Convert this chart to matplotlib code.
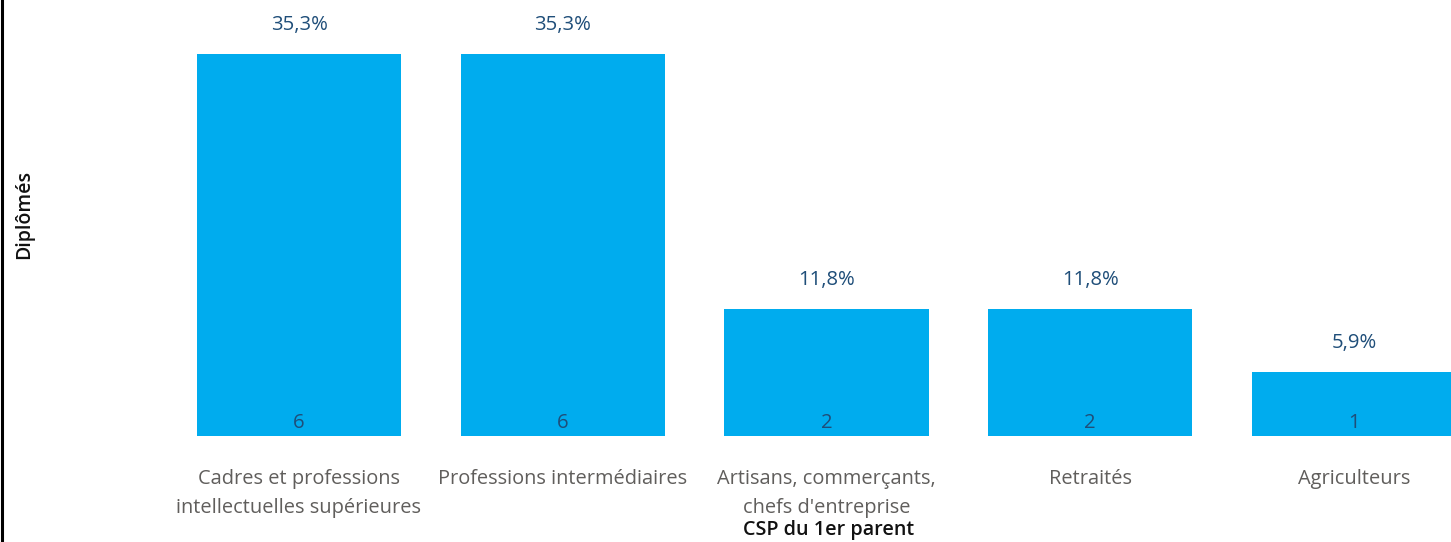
"""Bar chart: Diplômés par CSP du 1er parent."""

import matplotlib.pyplot as plt
import numpy as np

categories = [
    "Cadres et professions\nintellectuelles supérieures",
    "Professions intermédiaires",
    "Artisans, commerçants,\nchefs d'entreprise",
    "Retraités",
    "Agriculteurs",
]
counts = [6, 6, 2, 2, 1]
percent_labels = ["35,3%", "35,3%", "11,8%", "11,8%", "5,9%"]

W, H = 1451, 542
fig = plt.figure(figsize=(W / 100, H / 100), dpi=100, facecolor="white")

# axes placed in pixel terms: bottom of bars at y=436, category step ~263.75 px
step = 263.75
left_px = 299 - step / 2
ax = fig.add_axes([left_px / W, (H - 436) / H, (W - left_px) / W, 436 / H])
x = np.arange(len(categories))
ax.bar(x, counts, width=0.774, color="#00ACEE")
ax.set_xlim(-0.5, -0.5 + (W - left_px) / step)
ax.set_ylim(0, 436 / 63.67)

font = ["Open Sans", "DejaVu Sans"]
px = 72 / 100  # points per pixel
for xi, c, p in zip(x, counts, percent_labels):
    ax.annotate(p, (xi, c), xytext=(0, 29 * px), textcoords="offset points",
                ha="center", va="center", fontsize=14.6, color="#1F4E79",
                family=font)
    ax.annotate(str(c), (xi, 0), xytext=(0, 13 * px), textcoords="offset points",
                ha="center", va="center", fontsize=14.6, color="#1F4E79",
                family=font)

ax.set_xticks(x)
ax.set_xticklabels(categories, fontsize=14.4, color="#605E5C", family=font,
                   linespacing=1.55)
ax.tick_params(axis="x", length=0, pad=24)
ax.set_yticks([])
for s in ax.spines.values():
    s.set_visible(False)

fig.text(829 / W, 1 - 530 / H, "CSP du 1er parent", ha="center", va="center",
         fontsize=14.2, color="#111111", family=font, fontweight="semibold")
fig.text(24 / W, 1 - 214 / H, "Diplômés", ha="center", va="center",
         rotation=90, fontsize=14, color="#111111", family=font,
         fontweight="semibold")

# left border line
fig.add_artist(plt.Line2D([1.5 / W, 1.5 / W], [0, 1], color="black", lw=2.2))

fig.savefig("out.png", dpi=100, facecolor="white")
